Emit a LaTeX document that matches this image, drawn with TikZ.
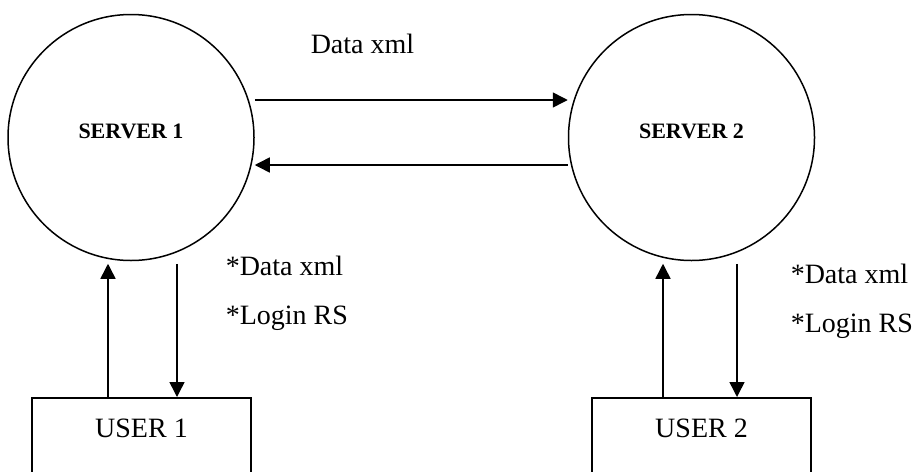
\documentclass[tikz,border=0pt]{standalone}
\usepackage{fontspec}
\setmainfont{Liberation Serif}
\usetikzlibrary{arrows.meta}

\begin{document}
\begin{tikzpicture}[x=1pt,y=-1pt,line width=1.5pt,
  server/.style={draw,circle,minimum size=246pt,inner sep=0pt,text depth=13pt,
    font=\fontsize{22}{24}\selectfont\bfseries},
  userbox/.style={draw,anchor=north,minimum width=219pt,inner ysep=21pt,text depth=110pt,
    font=\fontsize{28}{30}\selectfont},
  lbl/.style={anchor=base west,inner sep=0pt,font=\fontsize{28}{30}\selectfont},
  flow/.style={-{Triangle[length=15pt,width=15pt]}}]
  \clip (0,0) rectangle (917,471);
  \node[server] (s1) at (131,137.5) {SERVER 1};
  \node[server] (s2) at (691.5,137.5) {SERVER 2};
  \node[userbox] (u1) at (141.5,397) {USER 1};
  \node[userbox] (u2) at (701.5,397) {USER 2};

  \draw[flow] ([yshift=37.5pt]s1.east) -- ([yshift=37.5pt]s2.west);
  \draw[flow] ([yshift=-27.5pt]s2.west) -- ([yshift=-27.5pt]s1.east);
  \node[lbl] (top) at (310,53) {Data xml};

  \draw[flow] ([xshift=-33.5pt]u1.north) -- ([xshift=-33.5pt,yshift=-2.5pt]u1.north |- s1.south);
  \draw[flow] ([xshift=35.5pt,yshift=-2.5pt]u1.north |- s1.south) -- ([xshift=35.5pt]u1.north);
  \draw[flow] ([xshift=-38.5pt]u2.north) -- ([xshift=-38.5pt,yshift=-2.5pt]u2.north |- s2.south);
  \draw[flow] ([xshift=35.5pt,yshift=-2.5pt]u2.north |- s2.south) -- ([xshift=35.5pt]u2.north);

  \node[lbl] (d1) at (225,275) {*Data xml};
  \node[lbl] (l1) at (225,324) {*Login RS};
  \node[lbl] (d2) at (790,283) {*Data xml};
  \node[lbl] (l2) at (790,332) {*Login RS};
\end{tikzpicture}
\end{document}
